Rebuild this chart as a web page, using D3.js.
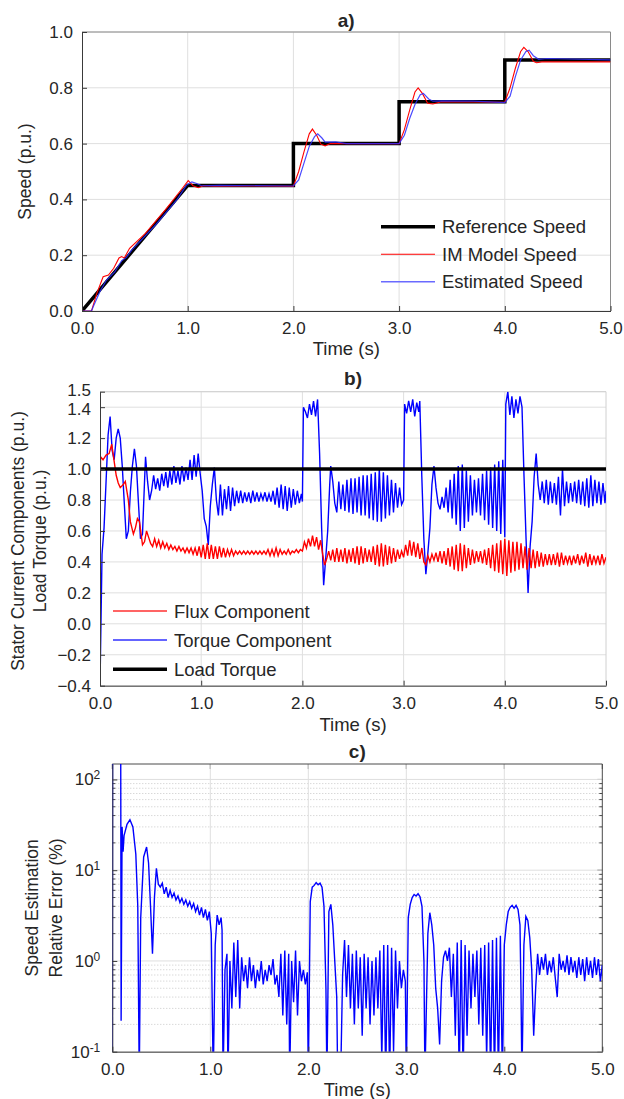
<!DOCTYPE html>
<html>
<head>
<meta charset="utf-8">
<script src="https://cdn.jsdelivr.net/npm/d3@7"></script>
<style>
  body { margin: 0; background: #fff; }
  text { font-family: "Liberation Sans", Arial, sans-serif; fill: #262626; }
</style>
</head>
<body>
<div id="chart"></div>
<script>
// ---- data ----
var timeTicks = [0, 1, 2, 3, 4, 5];
var speedTicks = [0, 0.2, 0.4, 0.6, 0.8, 1.0];
var currentTicks = [-0.4, -0.2, 0, 0.2, 0.4, 0.6, 0.8, 1.0, 1.2, 1.4, 1.5];
var errorTicks = [0.1, 1, 10, 100];
var errorExps = ["-1", "0", "1", "2"];

var speedNames = ["Reference Speed", "IM Model Speed", "Estimated Speed"];
var currentNames = ["Flux Component", "Torque Component", "Load Torque"];

// a) speeds [time, p.u.]
var refSpeed = [[0,0],[1,0.45],[2,0.45],[2,0.6],[3,0.6],[3,0.75],[4,0.75],[4,0.9],[5,0.9]];
var modelSpeed = [[0,0],[0.09,0],[0.14,0.063],[0.2,0.123],[0.25,0.129],[0.3,0.153],[0.35,0.19],[0.375,0.195],[0.4,0.19],[0.45,0.225],[0.6,0.278],[0.8,0.368],[0.95,0.44],[1.005,0.467],[1.05,0.449],[1.1,0.442],[1.15,0.449],[1.25,0.447],[1.6,0.448],[2.0,0.447],[2.05,0.5],[2.1,0.57],[2.15,0.635],[2.18,0.652],[2.22,0.63],[2.26,0.598],[2.3,0.592],[2.35,0.6],[2.6,0.6],[3.0,0.6],[3.05,0.65],[3.1,0.72],[3.15,0.785],[3.18,0.8],[3.22,0.78],[3.27,0.745],[3.32,0.742],[3.4,0.75],[4.0,0.748],[4.05,0.8],[4.1,0.87],[4.15,0.93],[4.18,0.945],[4.22,0.93],[4.27,0.895],[4.3,0.89],[4.35,0.893],[5.0,0.893]];
var estSpeed = [[0,0],[0.09,0],[0.107,0.016],[0.17,0.07],[0.23,0.11],[0.31,0.14],[0.375,0.18],[0.42,0.192],[0.47,0.218],[0.7,0.31],[0.9,0.4],[0.99,0.452],[1.04,0.463],[1.085,0.457],[1.13,0.449],[1.3,0.45],[2.0,0.448],[2.05,0.47],[2.1,0.53],[2.15,0.59],[2.2,0.625],[2.23,0.635],[2.27,0.62],[2.3,0.605],[2.4,0.606],[2.5,0.6],[3.0,0.6],[3.05,0.63],[3.1,0.69],[3.15,0.74],[3.2,0.775],[3.23,0.78],[3.28,0.76],[3.32,0.752],[3.4,0.753],[3.7,0.752],[4.0,0.747],[4.05,0.77],[4.1,0.84],[4.15,0.9],[4.2,0.93],[4.23,0.935],[4.27,0.915],[4.32,0.902],[4.4,0.905],[5.0,0.9]];

// b) stator current components [time, p.u.]
var fluxComp = [[0,0.20],[0.005,1.08],[0.03,1.06],[0.06,1.09],[0.09,1.10],[0.116,1.16],[0.14,1.05],[0.16,0.96],[0.18,0.91],[0.20,0.88],[0.23,0.90],[0.25,0.92],[0.28,0.80],[0.30,0.66],[0.33,0.58],[0.35,0.62],[0.37,0.68],[0.39,0.66],[0.42,0.51],[0.44,0.53],[0.46,0.60],[0.48,0.56],[0.50,0.52],
  [0.52,0.50],[0.54,0.55],[0.56,0.50],[0.58,0.54],[0.60,0.49],[0.62,0.53],[0.64,0.49],[0.66,0.52],[0.68,0.48],[0.70,0.51],[0.72,0.48],[0.74,0.50],[0.76,0.47],[0.78,0.50],[0.80,0.47],[0.82,0.49],[0.84,0.46],[0.86,0.49],[0.88,0.46],[0.90,0.49],[0.92,0.45],[0.94,0.49],[0.96,0.44],[0.98,0.50],
  [1.00,0.43],[1.02,0.51],[1.04,0.42],[1.06,0.52],[1.08,0.42],[1.10,0.51],[1.12,0.42],[1.14,0.50],[1.16,0.42],[1.18,0.50],[1.20,0.43],[1.22,0.49],[1.24,0.43],[1.26,0.48],[1.28,0.44],[1.30,0.48],[1.32,0.44],[1.34,0.47],[1.36,0.45],[1.38,0.47],[1.40,0.45],[1.42,0.47],[1.44,0.45],[1.46,0.47],[1.48,0.45],[1.50,0.47],[1.52,0.45],[1.54,0.47],[1.56,0.45],[1.58,0.47],[1.60,0.45],[1.62,0.47],[1.64,0.45],[1.66,0.48],[1.68,0.44],[1.70,0.48],[1.72,0.44],[1.74,0.49],[1.76,0.44],[1.78,0.48],[1.80,0.45],[1.82,0.47],[1.84,0.45],[1.86,0.48],[1.88,0.45],[1.90,0.47],[1.92,0.46],[1.94,0.48],[1.96,0.46],[1.98,0.48],
  [2.00,0.47],[2.02,0.53],[2.04,0.49],[2.06,0.55],[2.08,0.50],[2.10,0.57],[2.12,0.50],[2.14,0.56],[2.16,0.48],[2.18,0.54],[2.20,0.45],[2.22,0.38],[2.24,0.42],[2.26,0.47],[2.28,0.41],[2.30,0.48],[2.32,0.40],[2.34,0.49],[2.36,0.40],[2.38,0.48],[2.40,0.40],[2.42,0.49],[2.44,0.39],[2.46,0.48],[2.48,0.40],[2.50,0.49],[2.52,0.39],[2.54,0.50],[2.56,0.38],[2.58,0.50],[2.60,0.39],[2.62,0.49],[2.64,0.40],[2.66,0.48],[2.68,0.40],[2.70,0.50],[2.72,0.38],[2.74,0.51],[2.76,0.37],[2.78,0.52],[2.80,0.37],[2.82,0.51],[2.84,0.38],[2.86,0.50],[2.88,0.39],[2.90,0.49],[2.92,0.40],[2.94,0.48],[2.96,0.42],[2.98,0.47],
  [3.00,0.43],[3.02,0.51],[3.04,0.44],[3.06,0.54],[3.08,0.44],[3.10,0.53],[3.12,0.43],[3.14,0.52],[3.16,0.42],[3.18,0.49],[3.20,0.40],[3.22,0.38],[3.24,0.44],[3.26,0.40],[3.28,0.45],[3.30,0.41],[3.32,0.46],[3.34,0.40],[3.36,0.47],[3.38,0.39],[3.40,0.47],[3.42,0.38],[3.44,0.49],[3.46,0.37],[3.48,0.50],[3.50,0.35],[3.52,0.51],[3.54,0.34],[3.56,0.52],[3.58,0.34],[3.60,0.51],[3.62,0.36],[3.64,0.49],[3.66,0.38],[3.68,0.48],[3.70,0.39],[3.72,0.47],[3.74,0.40],[3.76,0.47],[3.78,0.39],[3.80,0.48],[3.82,0.38],[3.84,0.49],[3.86,0.36],[3.88,0.51],[3.90,0.34],[3.92,0.52],[3.94,0.33],[3.96,0.54],[3.98,0.32],
  [4.00,0.55],[4.02,0.31],[4.04,0.54],[4.06,0.33],[4.08,0.53],[4.10,0.34],[4.12,0.53],[4.14,0.35],[4.16,0.52],[4.18,0.36],[4.20,0.50],[4.22,0.35],[4.24,0.49],[4.26,0.36],[4.28,0.48],[4.30,0.36],[4.32,0.47],[4.34,0.37],[4.36,0.46],[4.38,0.37],[4.40,0.45],[4.42,0.38],[4.44,0.45],[4.46,0.38],[4.48,0.45],[4.50,0.38],[4.52,0.46],[4.54,0.37],[4.56,0.46],[4.58,0.38],[4.60,0.44],[4.62,0.39],[4.64,0.44],[4.66,0.38],[4.68,0.44],[4.70,0.39],[4.72,0.45],[4.74,0.38],[4.76,0.44],[4.78,0.39],[4.80,0.46],[4.82,0.37],[4.84,0.45],[4.86,0.38],[4.88,0.44],[4.90,0.39],[4.92,0.44],[4.94,0.38],[4.96,0.45],[4.98,0.39],[5.00,0.43]];

var torqueComp = [[0,-0.40],[0.02,0.45],[0.04,0.62],[0.06,0.92],[0.08,1.22],[0.10,1.34],[0.12,1.12],[0.14,1.06],[0.16,1.20],[0.18,1.26],[0.20,1.20],[0.22,1.02],[0.24,0.78],[0.26,0.55],[0.28,0.60],[0.30,0.85],[0.32,1.02],[0.34,1.13],[0.36,1.02],[0.38,0.78],[0.40,0.55],[0.42,0.58],[0.44,0.92],[0.45,1.08],[0.47,0.92],[0.49,0.80],
  [0.51,0.86],[0.53,0.96],[0.55,0.87],[0.57,0.94],[0.59,0.86],[0.61,0.97],[0.63,0.89],[0.65,0.98],[0.67,0.88],[0.69,0.99],[0.71,0.90],[0.73,1.02],[0.75,0.91],[0.77,0.99],[0.79,0.90],[0.81,1.02],[0.83,0.92],[0.85,1.01],[0.87,0.93],[0.89,1.06],[0.91,0.93],[0.93,1.09],[0.95,0.95],[0.97,1.10],[0.99,0.97],
  [1.01,0.86],[1.03,0.68],[1.05,0.63],[1.07,0.51],[1.09,0.76],[1.11,0.90],[1.13,1.01],[1.15,0.80],[1.17,0.70],[1.19,0.90],[1.21,0.70],[1.23,0.87],[1.25,0.74],[1.27,0.89],[1.29,0.73],[1.31,0.88],[1.33,0.76],[1.35,0.86],[1.37,0.78],[1.39,0.86],[1.41,0.78],[1.43,0.85],[1.45,0.79],[1.47,0.85],[1.49,0.78],[1.51,0.86],[1.53,0.79],[1.55,0.85],[1.57,0.79],[1.59,0.84],[1.61,0.80],[1.63,0.85],[1.65,0.79],[1.67,0.84],[1.69,0.79],[1.71,0.86],[1.73,0.77],[1.75,0.88],[1.77,0.75],[1.79,0.90],[1.81,0.74],[1.83,0.89],[1.85,0.73],[1.87,0.88],[1.89,0.75],[1.91,0.87],[1.93,0.77],[1.95,0.86],[1.97,0.78],[1.99,0.84],[2.00,0.79],
  [2.01,1.40],[2.03,1.37],[2.05,1.33],[2.07,1.42],[2.09,1.35],[2.11,1.44],[2.13,1.34],[2.15,1.45],[2.17,1.10],[2.19,0.62],[2.21,0.25],[2.23,0.42],[2.25,0.60],[2.27,0.90],[2.28,1.02],[2.30,0.92],[2.32,0.78],[2.34,0.72],[2.36,0.92],[2.38,0.74],[2.40,0.90],[2.42,0.73],[2.44,0.93],[2.46,0.72],[2.48,0.94],[2.50,0.71],[2.52,0.94],[2.54,0.72],[2.56,0.95],[2.58,0.70],[2.60,0.96],[2.62,0.70],[2.64,0.96],[2.66,0.68],[2.68,0.97],[2.70,0.67],[2.72,0.98],[2.74,0.66],[2.76,1.00],[2.78,0.66],[2.80,0.98],[2.82,0.68],[2.84,0.96],[2.86,0.70],[2.88,0.93],[2.90,0.72],[2.92,0.91],[2.94,0.75],[2.96,0.88],[2.98,0.77],[3.00,0.80],
  [3.01,1.42],[3.03,1.36],[3.05,1.44],[3.07,1.37],[3.09,1.45],[3.11,1.34],[3.13,1.43],[3.15,1.37],[3.16,1.44],[3.18,0.95],[3.20,0.55],[3.22,0.32],[3.24,0.46],[3.26,0.62],[3.28,0.90],[3.30,1.02],[3.32,0.88],[3.34,0.78],[3.36,0.74],[3.38,0.82],[3.40,0.75],[3.42,0.88],[3.44,0.72],[3.46,0.93],[3.48,0.68],[3.50,0.97],[3.52,0.64],[3.54,1.02],[3.56,0.60],[3.58,1.03],[3.60,0.62],[3.62,0.99],[3.64,0.66],[3.66,0.96],[3.68,0.70],[3.70,0.93],[3.72,0.72],[3.74,0.94],[3.76,0.70],[3.78,0.97],[3.80,0.67],[3.82,0.99],[3.84,0.64],[3.86,1.01],[3.88,0.62],[3.90,1.03],[3.92,0.60],[3.94,1.05],[3.96,0.58],[3.98,1.06],[4.00,0.56],
  [4.01,1.42],[4.03,1.50],[4.05,1.35],[4.07,1.47],[4.09,1.33],[4.11,1.45],[4.13,1.36],[4.15,1.47],[4.17,1.40],[4.19,0.95],[4.21,0.55],[4.23,0.20],[4.25,0.50],[4.27,0.66],[4.29,0.95],[4.31,1.10],[4.33,0.90],[4.35,0.80],[4.37,0.92],[4.39,0.78],[4.41,0.93],[4.43,0.77],[4.45,0.92],[4.47,0.78],[4.49,0.91],[4.51,0.77],[4.53,0.95],[4.55,0.70],[4.57,1.00],[4.59,0.76],[4.61,0.92],[4.63,0.78],[4.65,0.91],[4.67,0.79],[4.69,0.92],[4.71,0.78],[4.73,0.93],[4.75,0.77],[4.77,0.92],[4.79,0.76],[4.81,0.94],[4.83,0.75],[4.85,0.96],[4.87,0.76],[4.89,0.93],[4.91,0.78],[4.93,0.92],[4.95,0.77],[4.97,0.91],[4.99,0.78],[5.00,0.86]];

var loadTorque = [[0,1.0],[5,1.0]];

// c) relative error of the speed estimate [time, %]
var speedError = [[0,0.05],[0.003,1000],[0.085,1000],[0.09,0.22],[0.10,30],[0.11,16],[0.12,24],[0.15,32],[0.18,36],[0.21,30],[0.24,15],[0.26,4],[0.275,0.05],[0.29,3],[0.32,14],[0.35,18],[0.37,12],[0.39,4],[0.41,1.2],[0.43,5],[0.45,10.5],
  [0.47,7],[0.49,6.5],[0.51,7.2],[0.53,5.5],[0.55,6.5],[0.57,5.0],[0.59,6.0],[0.61,5.0],[0.63,5.6],[0.65,4.7],[0.67,5.2],[0.69,4.4],[0.71,4.9],[0.73,4.2],[0.75,4.7],[0.77,4.0],[0.79,4.5],[0.81,3.8],[0.83,4.3],[0.85,3.5],[0.87,4.0],[0.89,3.2],[0.91,3.9],[0.93,3.0],[0.95,3.7],[0.97,2.8],[0.99,3.5],
  [1.01,2.0],[1.03,0.05],[1.05,1.5],[1.07,3.2],[1.09,2.5],[1.11,3.0],[1.12,2.2],[1.13,0.05],[1.15,0.8],[1.17,1.2],[1.18,0.05],[1.20,1.0],[1.22,0.3],[1.24,1.6],[1.26,0.4],[1.28,1.7],[1.30,0.3],[1.32,1.1],[1.34,0.6],[1.36,0.9],[1.38,0.5],[1.40,1.1],[1.42,0.6],[1.44,0.9],[1.46,0.5],[1.48,0.8],[1.50,0.6],[1.52,1.0],[1.54,0.55],[1.56,0.8],[1.58,0.6],[1.60,0.9],[1.62,0.7],[1.64,1.05],[1.66,0.55],[1.68,0.7],[1.70,0.4],[1.72,1.2],[1.74,0.25],[1.76,1.3],[1.78,0.2],[1.80,1.2],[1.81,0.05],[1.83,1.0],[1.85,0.35],[1.87,1.3],[1.89,0.25],[1.91,1.0],[1.93,0.6],[1.95,0.8],[1.97,0.55],[1.99,0.75],
  [2.00,0.05],[2.02,4.5],[2.04,6.5],[2.06,6.8],[2.08,7.3],[2.10,6.9],[2.12,7.2],[2.14,6.5],[2.16,4.0],[2.18,0.5],[2.19,0.05],[2.21,3.5],[2.23,4.2],[2.25,2.5],[2.27,1.0],[2.29,0.4],[2.30,0.05],[2.33,0.05],[2.35,0.7],[2.37,1.7],[2.39,0.4],[2.41,1.5],[2.43,0.3],[2.45,1.2],[2.47,0.2],[2.49,1.3],[2.51,0.3],[2.53,1.1],[2.55,0.15],[2.57,1.2],[2.59,0.3],[2.61,1.1],[2.63,0.2],[2.65,1.0],[2.67,0.25],[2.69,1.1],[2.71,0.3],[2.73,1.3],[2.75,0.08],[2.77,1.5],[2.79,0.05],[2.81,1.5],[2.83,0.05],[2.85,1.4],[2.87,0.1],[2.89,1.3],[2.91,0.3],[2.93,1.0],[2.95,0.5],[2.97,0.8],[2.99,0.6],
  [3.00,0.05],[3.02,3.0],[3.04,4.2],[3.06,5.0],[3.08,5.4],[3.10,5.2],[3.12,5.5],[3.14,5.1],[3.16,4.0],[3.18,1.0],[3.19,0.05],[3.22,2.0],[3.24,3.4],[3.26,2.5],[3.28,1.5],[3.30,0.5],[3.32,0.3],[3.34,0.12],[3.36,0.6],[3.38,1.1],[3.40,1.3],[3.42,1.0],[3.44,1.4],[3.46,0.4],[3.48,1.2],[3.50,0.15],[3.52,1.6],[3.54,0.05],[3.56,1.7],[3.58,0.05],[3.60,1.5],[3.62,0.15],[3.64,1.3],[3.66,0.3],[3.68,1.2],[3.70,0.4],[3.72,1.3],[3.74,0.2],[3.76,1.4],[3.78,0.15],[3.80,1.5],[3.82,0.08],[3.84,1.6],[3.86,0.05],[3.88,1.7],[3.90,0.05],[3.92,1.8],[3.94,0.05],[3.96,1.9],[3.98,0.05],
  [4.00,1.5],[4.02,2.5],[4.04,3.5],[4.06,3.9],[4.08,4.1],[4.10,3.8],[4.12,4.1],[4.14,3.7],[4.16,2.5],[4.17,0.5],[4.18,0.05],[4.20,1.5],[4.22,3.1],[4.24,2.8],[4.26,1.8],[4.28,0.8],[4.30,0.15],[4.32,0.5],[4.34,1.2],[4.36,0.7],[4.38,1.1],[4.40,0.8],[4.42,1.2],[4.44,0.7],[4.46,1.0],[4.48,0.75],[4.50,1.1],[4.52,0.65],[4.54,0.4],[4.56,1.2],[4.58,0.8],[4.60,1.0],[4.62,0.75],[4.64,1.15],[4.66,0.7],[4.68,1.1],[4.70,0.75],[4.72,1.0],[4.74,0.65],[4.76,1.1],[4.78,0.7],[4.80,1.05],[4.82,0.6],[4.84,1.1],[4.86,0.7],[4.88,1.0],[4.90,0.65],[4.92,1.1],[4.94,0.7],[4.96,1.05],[4.98,0.6],[5.00,0.9]];

// ---- layout ----
var svgWidth = 624;
var svgHeight = 1099;

var svg = d3.select("#chart")
  .append("svg")
  .attr("width", svgWidth)
  .attr("height", svgHeight);

// plot boxes of the three panels
var boxA = {left: 82, right: 610.5, top: 32, bottom: 311};
var boxB = {left: 100, right: 606, top: 391.7, bottom: 685.7};
var boxC = {left: 112.3, right: 602.3, top: 764, bottom: 1051.7};

var xA = d3.scaleLinear().domain([0, 5]).range([boxA.left, boxA.right]);
var yA = d3.scaleLinear().domain([0, 1]).range([boxA.bottom, boxA.top]);
var xB = d3.scaleLinear().domain([0, 5]).range([boxB.left, boxB.right]);
var yB = d3.scaleLinear().domain([-0.4, 1.5]).range([boxB.bottom, boxB.top]);
var xC = d3.scaleLinear().domain([0, 5]).range([boxC.left, boxC.right]);
var yC = d3.scaleLog().domain([0.1, 148]).range([boxC.bottom, boxC.top]);

var lineGen = function(x, y) {
  return d3.line().x(d => x(d[0])).y(d => y(d[1]));
};

// clip a panel's data to its plot box
function addClip(id, box) {
  svg.append("clipPath").attr("id", id)
    .append("rect")
    .attr("x", box.left).attr("y", box.top)
    .attr("width", box.right - box.left)
    .attr("height", box.bottom - box.top);
}

// gridlines and top/right edges for one panel
function drawFrame(box, x, y, yTicks, frameColor) {
  var g = svg.append("g");

  g.selectAll(".vgrid")
    .data(timeTicks.slice(1, -1))
    .enter()
    .append("line")
    .attr("x1", d => x(d)).attr("x2", d => x(d))
    .attr("y1", box.top).attr("y2", box.bottom)
    .attr("stroke", "#dfdfdf").attr("stroke-width", 1);

  g.selectAll(".hgrid")
    .data(yTicks)
    .enter()
    .append("line")
    .attr("x1", box.left).attr("x2", box.right)
    .attr("y1", d => y(d)).attr("y2", d => y(d))
    .attr("stroke", "#dfdfdf").attr("stroke-width", 1);

  g.append("path")
    .attr("d", `M${box.left},${box.top}H${box.right}V${box.bottom}`)
    .attr("fill", "none")
    .attr("stroke", frameColor);

  return g;
}

function drawAxes(box, x, y, yTicks, yFormat) {
  var bottomAxis = d3.axisBottom(x)
    .tickValues(timeTicks)
    .tickSize(-5).tickSizeOuter(0).tickPadding(11)
    .tickFormat(d3.format(".1f"));

  svg.append("g")
    .attr("transform", `translate(0, ${box.bottom})`)
    .call(bottomAxis)
    .attr("color", "#3a3a3a")
    .attr("font-size", 17)
    .attr("font-family", null);

  var leftAxis = d3.axisLeft(y)
    .tickValues(yTicks)
    .tickSize(-5).tickSizeOuter(0).tickPadding(9)
    .tickFormat(yFormat);

  return svg.append("g")
    .attr("transform", `translate(${box.left}, 0)`)
    .call(leftAxis)
    .attr("color", "#3a3a3a")
    .attr("font-size", 17)
    .attr("font-family", null);
}

function addTitle(box, label, yPos) {
  svg.append("text")
    .attr("x", (box.left + box.right) / 2)
    .attr("y", yPos)
    .attr("text-anchor", "middle")
    .attr("font-size", 19)
    .attr("font-weight", "bold")
    .text(label);
}

function addTimeLabel(box, yPos) {
  svg.append("text")
    .attr("x", (box.left + box.right) / 2)
    .attr("y", yPos)
    .attr("text-anchor", "middle")
    .attr("font-size", 18.5)
    .text("Time (s)");
}

function addYLabel(lines, xs, yCenter) {
  lines.forEach(function(txt, i) {
    svg.append("text")
      .attr("transform", `translate(${xs[i]}, ${yCenter}) rotate(-90)`)
      .attr("text-anchor", "middle")
      .attr("font-size", 17.5)
      .text(txt);
  });
}

function addLegend(names, colors, widths, x0, rows) {
  names.forEach(function(name, i) {
    svg.append("line")
      .attr("x1", x0).attr("x2", x0 + 54)
      .attr("y1", rows[i]).attr("y2", rows[i])
      .attr("stroke", colors[i])
      .attr("stroke-width", widths[i]);
    svg.append("text")
      .attr("x", x0 + 61)
      .attr("y", rows[i] + 6.5)
      .attr("font-size", 18.5)
      .text(name);
  });
}

// ================= a) speed =================
drawFrame(boxA, xA, yA, speedTicks, "#8a8a8a");
addClip("clipA", boxA);
var plotA = svg.append("g").attr("clip-path", "url(#clipA)");

plotA.append("path").datum(refSpeed)
  .attr("d", lineGen(xA, yA))
  .attr("fill", "none").attr("stroke", "#000").attr("stroke-width", 3.5);
plotA.append("path").datum(modelSpeed)
  .attr("d", lineGen(xA, yA))
  .attr("fill", "none").attr("stroke", "#ff0000").attr("stroke-width", 1.1);
plotA.append("path").datum(estSpeed)
  .attr("d", lineGen(xA, yA))
  .attr("fill", "none").attr("stroke", "#2a2aff").attr("stroke-width", 1.2).attr("opacity", 0.85);

drawAxes(boxA, xA, yA, speedTicks, d3.format(".1f"));
addTitle(boxA, "a)", 27);
addTimeLabel(boxA, 355);
addYLabel(["Speed (p.u.)"], [31], (boxA.top + boxA.bottom) / 2);
addLegend(speedNames, ["#000", "#ff0000", "#6a6aff"], [3.5, 1.1, 1.5], 381, [226.7, 254.3, 281.7]);

// ================= b) current components =================
drawFrame(boxB, xB, yB, currentTicks, "#d0d0d0");
addClip("clipB", boxB);
var plotB = svg.append("g").attr("clip-path", "url(#clipB)");

plotB.append("path").datum(torqueComp)
  .attr("d", lineGen(xB, yB))
  .attr("fill", "none").attr("stroke", "#0000ff").attr("stroke-width", 1.4);
plotB.append("path").datum(fluxComp)
  .attr("d", lineGen(xB, yB))
  .attr("fill", "none").attr("stroke", "#ff0000").attr("stroke-width", 1.4);
// load torque drawn over the traces, like the original
plotB.append("path").datum(loadTorque)
  .attr("d", lineGen(xB, yB))
  .attr("fill", "none").attr("stroke", "#000").attr("stroke-width", 3.5);

var yAxisB = drawAxes(boxB, xB, yB, currentTicks, d3.format(".1f"));
// 1.5 and 1.4 sit very close together, nudge them apart a little
yAxisB.selectAll(".tick text")
  .attr("dy", d => d === 1.5 ? "0.22em" : d === 1.4 ? "0.42em" : "0.32em");

addTitle(boxB, "b)", 384.5);
addTimeLabel(boxB, 731);
addYLabel(["Stator Current Components (p.u.)", "Load Torque (p.u.)"], [24, 46], 541);
addLegend(currentNames, ["#ff3030", "#3030ff", "#000"], [1.5, 1.5, 3.5], 113, [611, 640, 669.3]);

// ================= c) estimation error =================
var g3 = svg.append("g");
var minorVals = [];
errorTicks.forEach(function(dec) {
  for (var k = 2; k <= 9; k++) {
    if (dec * k < 148) minorVals.push(dec * k);
  }
});

// minor (dotted) grid
g3.selectAll(".mgrid")
  .data(minorVals)
  .enter()
  .append("line")
  .attr("x1", boxC.left).attr("x2", boxC.right)
  .attr("y1", d => yC(d)).attr("y2", d => yC(d))
  .attr("stroke", "#c8c8c8").attr("stroke-width", 1)
  .attr("stroke-dasharray", "1,2");

drawFrame(boxC, xC, yC, errorTicks, "#4a4a4a");

// ticks on top and right edges
g3.selectAll(".ttick")
  .data(timeTicks)
  .enter()
  .append("line")
  .attr("x1", d => xC(d)).attr("x2", d => xC(d))
  .attr("y1", boxC.top).attr("y2", boxC.top + 5)
  .attr("stroke", "#4a4a4a");
g3.selectAll(".rtick")
  .data(errorTicks.concat(minorVals))
  .enter()
  .append("line")
  .attr("x1", boxC.right).attr("x2", d => boxC.right - (errorTicks.indexOf(d) >= 0 ? 5 : 3))
  .attr("y1", d => yC(d)).attr("y2", d => yC(d))
  .attr("stroke", "#4a4a4a");
g3.selectAll(".ltick")
  .data(minorVals)
  .enter()
  .append("line")
  .attr("x1", boxC.left).attr("x2", boxC.left + 3)
  .attr("y1", d => yC(d)).attr("y2", d => yC(d))
  .attr("stroke", "#4a4a4a");

addClip("clipC", boxC);
var plotC = svg.append("g").attr("clip-path", "url(#clipC)");
plotC.append("path").datum(speedError)
  .attr("d", lineGen(xC, yC))
  .attr("fill", "none").attr("stroke", "#0000ff").attr("stroke-width", 1.4);

var yAxisC = drawAxes(boxC, xC, yC, errorTicks, () => "");
yAxisC.selectAll(".tick text")
  .attr("x", -12)
  .each(function(d, i) {
    var t = d3.select(this);
    t.append("tspan").text("10");
    t.append("tspan").attr("dy", "-0.5em").attr("font-size", 12).text(errorExps[i]);
  });

addTitle(boxC, "c)", 758);
addTimeLabel(boxC, 1096);
addYLabel(["Speed Estimation", "Relative Error (%)"], [38, 62], (boxC.top + boxC.bottom) / 2);
</script>
</body>
</html>
